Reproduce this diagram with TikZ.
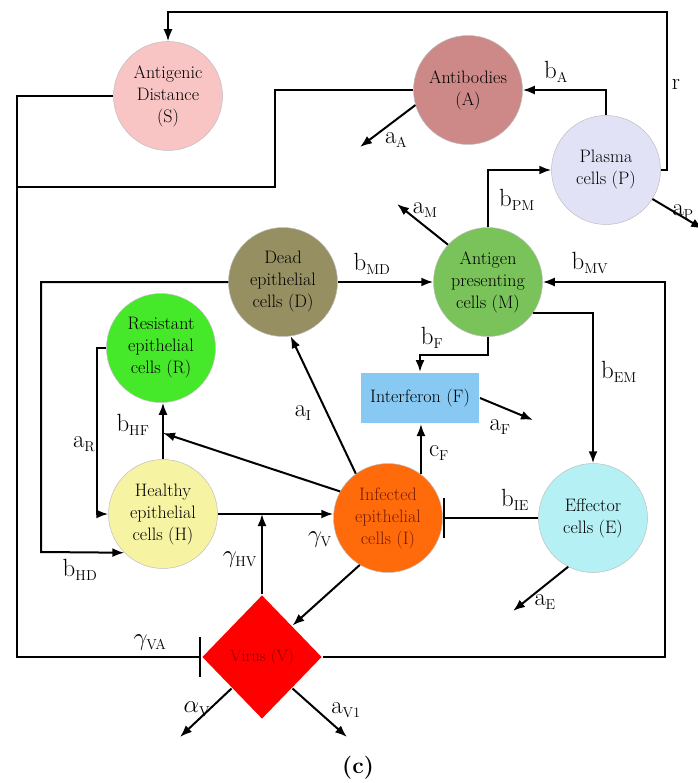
\documentclass[tikz,border=0pt]{standalone}
\usepackage{tikz}
\usetikzlibrary{arrows.meta,shapes.geometric}

\DeclareMathSizes{23}{23}{13.5}{10}

\definecolor{distpink}{HTML}{F8C4C4}
\definecolor{abrose}{HTML}{CD8888}
\definecolor{plasmalav}{HTML}{E2E2F6}
\definecolor{apcgreen}{HTML}{7AC35A}
\definecolor{deadolive}{HTML}{968F62}
\definecolor{resgreen}{HTML}{46E82A}
\definecolor{healthyel}{HTML}{F6F3A2}
\definecolor{inforange}{HTML}{FF6A0A}
\definecolor{effcyan}{HTML}{B4F0F4}
\definecolor{ifnblue}{HTML}{87C9F2}
\definecolor{virusred}{HTML}{8A0000}
\definecolor{inftext}{HTML}{7A1C00}

\newcommand{\nodefont}{\fontsize{18}{22}\selectfont}
\newcommand{\labfont}{\fontsize{23}{28}\selectfont}
\newcommand{\ratelab}[2]{$\mathrm{#1}_{\mathrm{#2}}$}

\begin{document}
\begin{tikzpicture}[x=1pt, y=-1pt, line width=2pt,
    cell/.style={circle, minimum size=109pt, inner sep=0pt, align=center, font=\nodefont, draw=black!25, line width=0.5pt},
    arr/.style={-{Latex[length=12pt,width=9pt]}},
    inh/.style={-{Bar[width=40pt]}},
    lab/.style={font=\labfont, inner sep=0pt}]
    \useasboundingbox (0,0) rectangle (697,783);

    % draw compartments
    \node[cell, fill=distpink] (S) at (168,96) {Antigenic\\Distance\\(S)};
    \node[cell, fill=abrose] (A) at (468,90) {Antibodies\\(A)};
    \node[cell, fill=plasmalav] (P) at (606,170) {Plasma\\cells (P)};
    \node[cell, fill=apcgreen] (M) at (488,282) {Antigen\\presenting\\cells (M)};
    \node[cell, fill=deadolive] (D) at (283,282) {Dead\\epithelial\\cells (D)};
    \node[cell, fill=resgreen] (R) at (161,348) {Resistant\\epithelial\\cells (R)};
    \node[cell, fill=healthyel] (H) at (163,514) {Healthy\\epithelial\\cells (H)};
    \node[cell, fill=inforange, text=inftext] (I) at (388,518) {Infected\\epithelial\\cells (I)};
    \node[cell, fill=effcyan] (E) at (593,518) {Effector\\cells (E)};
    \node[fill=ifnblue, minimum width=118pt, minimum height=50pt, font=\nodefont] (F) at (420,398) {Interferon (F)};
    \node[diamond, fill=red, minimum width=120pt, minimum height=124pt, inner sep=0pt, font=\fontsize{16.5}{18}\selectfont, text=virusred] (V) at (262,657) {Virus (V)};

    % bend points and free ends
    \coordinate (rtop) at (667,12);
    \coordinate (ajog) at (275,187);
    \coordinate (ajoin) at (17,187);
    \coordinate (vaturn) at (17,657);
    \coordinate (hdturn) at (41,552);
    \coordinate (rturn) at (97,348);
    \coordinate (mvturn) at (665,657);
    \coordinate (hfjoin) at (163,433);
    \coordinate (aAend) at (360,147);
    \coordinate (aPend) at (703,229);
    \coordinate (aMend) at (397,204);
    \coordinate (aFend) at (533,420);
    \coordinate (aEend) at (513,611);
    \coordinate (aVend) at (180,737);
    \coordinate (aVoneend) at (347,737);

    % draw connectors
    \draw[arr] (P.east) -| (rtop) -| (S.north);
    \draw[arr] (P.north) |- (A.east);
    \draw (A.west) -| (ajog) -- (ajoin);
    \draw[inh] (S.west) -| (vaturn) -- (V.west);
    \draw[arr] (A.196) -- (aAend);
    \draw[arr] (P.-32) -- (aPend);
    \draw[arr] (M.north) |- (P.west);
    \draw[arr] (M.137) -- (aMend);
    \draw[arr] (D.east) -- (M.west);
    \draw[arr] (D.west) -| (hdturn) -- (H.225);
    \draw[arr] (M.-35) -| (E.north);
    \draw[arr] (M.south) -- ++(0,18) -| (F.north);
    \draw[arr] (V.east) -- (mvturn) |- (M.east);
    \draw[arr] (F.east) -- (aFend);
    \draw[arr] (I.53) -- (I.53 |- F.south);
    \draw[arr] (I.126) -- (D.-82);
    \draw[arr] (I.151) -- (hfjoin);
    \draw[arr] (H.north) -- (H.north |- R.south);
    \draw[arr] (R.west) -- (rturn) |- (H.west);
    \draw[arr] (H.east) -- (H.east -| I.west);
    \draw[arr] (V.north) -- (V.north |- H.east);
    \draw[arr] (I.239) -- (V.north east);
    \draw[inh] (E.west) -- (I.east);
    \draw[arr] (E.-117) -- (aEend);
    \draw[arr] (V.south west) -- (aVend);
    \draw[arr] (V.south east) -- (aVoneend);

    % draw rate labels
    \node[lab] (lr) at (676,84) {r};
    \node[lab] (lbA) at (556,72) {\ratelab{b}{A}};
    \node[lab] (laA) at (396,140) {\ratelab{a}{A}};
    \node[lab] (laP) at (683,212) {\ratelab{a}{P}};
    \node[lab] (lbPM) at (517,200) {\ratelab{b}{PM}};
    \node[lab] (laM) at (425,210) {\ratelab{a}{M}};
    \node[lab] (lbMD) at (372,264) {\ratelab{b}{MD}};
    \node[lab] (lbMV) at (590,263) {\ratelab{b}{MV}};
    \node[lab] (lbF) at (432,338) {\ratelab{b}{F}};
    \node[lab] (lbEM) at (619,372) {\ratelab{b}{EM}};
    \node[lab] (laF) at (500,427) {\ratelab{a}{F}};
    \node[lab] (lcF) at (439,453) {\ratelab{c}{F}};
    \node[lab] (laI) at (303,413) {\ratelab{a}{I}};
    \node[lab] (lbHF) at (133,425) {\ratelab{b}{HF}};
    \node[lab] (laR) at (84,444) {\ratelab{a}{R}};
    \node[lab] (lbHD) at (80,570) {\ratelab{b}{HD}};
    \node[lab] (lgHV) at (240,560) {$\gamma_{\mathrm{HV}}$};
    \node[lab] (lgV) at (320,540) {$\gamma_{\mathrm{V}}$};
    \node[lab] (lbIE) at (515,500) {\ratelab{b}{IE}};
    \node[lab] (laE) at (545,602) {\ratelab{a}{E}};
    \node[lab] (lgVA) at (150,643) {$\gamma_{\mathrm{VA}}$};
    \node[lab] (lalV) at (197,709) {$\alpha_{\mathrm{V}}$};
    \node[lab] (laVone) at (346,710) {\ratelab{a}{V1}};

    % caption
    \node[font=\fontsize{23}{26}\selectfont\bfseries] (cap) at (358,768) {(c)};
\end{tikzpicture}
\end{document}
